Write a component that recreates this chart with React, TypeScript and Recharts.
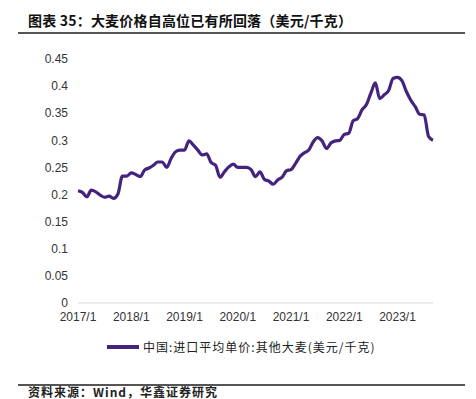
import { Line, LineChart, XAxis, YAxis } from "recharts";

const TITLE = "图表 35：大麦价格自高位已有所回落（美元/千克）";
const SERIES_NAME = "中国:进口平均单价:其他大麦(美元/千克)";
const SOURCE = "资料来源：Wind，华鑫证券研究";

const startYear = 2017;
const monthCount = 81; // 2017/1 .. 2023/9

const months: string[] = [];
for (let i = 0; i < monthCount; i++) {
  months.push(`${startYear + Math.floor(i / 12)}/${(i % 12) + 1}`);
}

const barleyPrice = [
  0.207, 0.204, 0.196, 0.208, 0.205, 0.199, 0.195, 0.197, 0.193, 0.201, 0.234, 0.234,
  0.24, 0.237, 0.233, 0.245, 0.249, 0.254, 0.26, 0.26, 0.25, 0.267, 0.279, 0.282,
  0.282, 0.299, 0.291, 0.282, 0.273, 0.275, 0.259, 0.254, 0.232, 0.242, 0.251, 0.256,
  0.25, 0.25, 0.25, 0.246, 0.233, 0.242, 0.228, 0.225, 0.219, 0.227, 0.232, 0.244,
  0.246, 0.257, 0.27, 0.277, 0.282, 0.297, 0.305, 0.299, 0.285, 0.295, 0.299, 0.3,
  0.311, 0.313, 0.336, 0.34, 0.356, 0.366, 0.387, 0.406, 0.377, 0.384, 0.392, 0.414,
  0.416, 0.41, 0.39, 0.374, 0.362, 0.348, 0.347, 0.307, 0.3,
];

const yTicks = [0, 0.05, 0.1, 0.15, 0.2, 0.25, 0.3, 0.35, 0.4, 0.45];

const data = months.map((m, i) => ({ month: m, price: barleyPrice[i] }));

const LINE_COLOR = "#44237f";
const tickStyle = { fontSize: 12, fill: "#333", fontFamily: "'Liberation Sans', Arial, sans-serif" };

export default function App() {
  return (
    <div
      style={{
        position: "absolute",
        left: 0,
        top: 0,
        width: 476,
        height: 399,
        overflow: "hidden",
        background: "#fff",
        fontFamily: "'Noto Sans CJK SC', sans-serif",
      }}
    >
      <div
        style={{
          position: "absolute",
          left: 28,
          top: 10,
          fontSize: 14,
          fontWeight: 700,
          color: "#111",
          lineHeight: "20px",
          letterSpacing: 0.2,
          whiteSpace: "nowrap",
        }}
      >
        {TITLE}
      </div>
      <div style={{ position: "absolute", left: 18, top: 32, width: 447, height: 2, background: "#555" }} />

      <LineChart
        width={476}
        height={399}
        data={data}
        margin={{ top: 59, right: 43, bottom: 66, left: 18 }}
        style={{ position: "absolute", left: 0, top: 0 }}
      >
        <XAxis
          dataKey="month"
          interval={11}
          tickLine={false}
          axisLine={{ stroke: "#d9d9d9" }}
          tick={tickStyle}
          tickMargin={3}
          height={30}
        />
        <YAxis
          domain={[0, 0.45]}
          ticks={yTicks}
          width={60}
          axisLine={false}
          tickLine={false}
          tickMargin={4}
          tick={tickStyle}
        />
        <Line
          type="monotone"
          dataKey="price"
          stroke={LINE_COLOR}
          strokeWidth={3.2}
          dot={false}
          isAnimationActive={false}
        />
      </LineChart>

      <div
        style={{
          position: "absolute",
          left: 107,
          top: 338,
          display: "flex",
          alignItems: "center",
          fontSize: 12,
          color: "#222",
          letterSpacing: 1,
          whiteSpace: "nowrap",
        }}
      >
        <span style={{ display: "inline-block", width: 32, height: 4, background: LINE_COLOR, marginRight: 4 }} />
        {SERIES_NAME}
      </div>

      <div style={{ position: "absolute", left: 18, top: 384, width: 447, height: 1.5, background: "#555" }} />
      <div
        style={{
          position: "absolute",
          left: 28,
          top: 386,
          fontSize: 12,
          fontWeight: 700,
          color: "#222",
          letterSpacing: 1,
          lineHeight: "12px",
          whiteSpace: "nowrap",
        }}
      >
        {SOURCE}
      </div>
    </div>
  );
}
